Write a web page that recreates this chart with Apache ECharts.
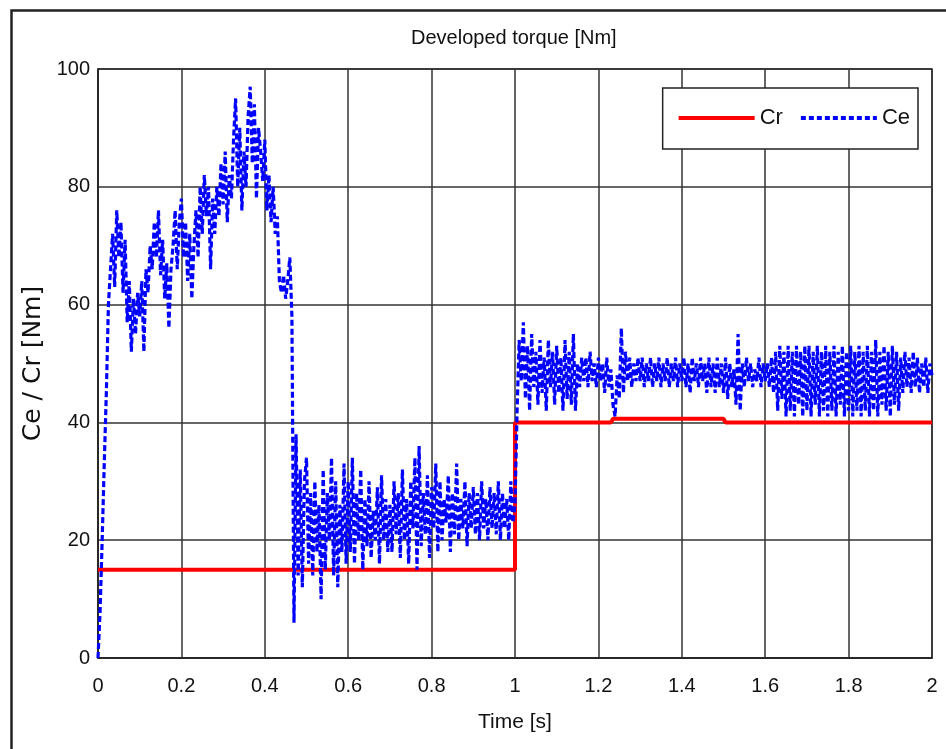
<!DOCTYPE html>
<html>
<head>
<meta charset="utf-8">
<script src="https://cdn.jsdelivr.net/npm/echarts@6/dist/echarts.min.js"></script>
<style>html,body{margin:0;padding:0;background:#fff;}#c{width:946px;height:749px;}</style>
</head>
<body>
<div id="c"></div>
<script>
// Time axis tick labels
const xTicks = ['0','0.2','0.4','0.6','0.8','1','1.2','1.4','1.6','1.8','2'];
const yTicks = ['0','20','40','60','80','100'];

// Cr (load torque): step profile [time, value]
const crTimes  = [0, 1.0, 1.0, 1.23, 1.235, 1.5, 1.505, 2.0];
const crValues = [15, 15, 40, 40, 40.6, 40.6, 40, 40];

// Ce (developed torque) sampled every 0.005 s from t = 0
const ceStart = 0;
const ceStep = 0.005;
const ce_0_0 = [0,8,20,33,45,60,66,72,63,76,68,74,62,71,57,64,52,61,55,62];
const ce_0_1 = [58,64,52,66,62,70,66,74,68,76,65,71,61,67,56,66,70,76,66,74];
const ce_0_2 = [78,68,74,64,72,61,70,76,68,80,72,82,75,80,66,78,72,80,75,84];
const ce_0_3 = [77,86,74,82,78,88,95,80,90,76,86,80,92,97,84,94,78,90,86,81];
const ce_0_4 = [88,76,82,74,80,72,75,64,62,65,61,64,68,58,6,38,14,32,12,30];
const ce_0_5 = [34,16,28,14,30,18,26,10,32,15,28,20,34,14,30,12,26,18,33,16];
const ce_0_6 = [30,18,34,16,28,20,32,15,27,19,30,17,25,20,29,16,31,20,27,18];
const ce_0_7 = [26,18,30,21,28,17,32,20,27,16,30,22,34,15,36,19,28,21,31,17];
const ce_0_8 = [29,22,33,18,30,20,27,23,31,18,28,21,33,20,27,22,30,19,28,22];
const ce_0_9 = [29,21,28,20,30,22,27,20,29,22,28,21,30,20,28,22,27,20,30,23];
const ce_1_0 = [26,42,54,47,57,44,53,42,55,46,52,43,54,45,51,42,54,46,52,43];
const ce_1_1 = [53,45,51,42,54,44,52,43,55,42,50,46,51,47,51,46,52,47,50,46];
const ce_1_2 = [51,47,50,45,51,46,49,43,41,48,44,56,45,52,47,51,46,50,47,51];
const ce_1_3 = [47,51,46,50,47,51,46,50,47,51,46,50,47,51,46,50,47,51,46,50];
const ce_1_4 = [47,51,46,50,45,51,47,50,46,51,47,50,45,51,46,50,45,51,46,50];
const ce_1_5 = [45,51,44,50,46,49,43,55,42,50,46,51,47,50,46,49,47,51,46,50];
const ce_1_6 = [47,50,46,51,45,52,42,53,44,52,41,53,42,52,41,53,43,52,41,53];
const ce_1_7 = [42,53,41,52,43,53,41,52,42,53,41,52,42,53,41,52,43,53,41,52];
const ce_1_8 = [42,53,41,52,42,53,41,52,42,53,41,52,42,54,41,52,43,53,42,52];
const ce_1_9 = [41,53,43,52,42,51,45,52,46,51,45,52,46,51,45,50,46,51,45,50,48];

const ceValues = [].concat(ce_0_0,ce_0_1,ce_0_2,ce_0_3,ce_0_4,ce_0_5,ce_0_6,ce_0_7,ce_0_8,ce_0_9,
  ce_1_0,ce_1_1,ce_1_2,ce_1_3,ce_1_4,ce_1_5,ce_1_6,ce_1_7,ce_1_8,ce_1_9);

const crData = crTimes.map((t, i) => [t, crValues[i]]);
const ceData = ceValues.map((v, i) => [+(ceStart + i * ceStep).toFixed(4), v]);

const FONT = "'Liberation Sans', Arial, sans-serif";
const hiddenSymbol = {color: 'rgba(0,0,0,0)', borderWidth: 0, opacity: 0};
const chart = echarts.init(document.getElementById('c'), null, {renderer: 'canvas'});
chart.setOption({
  animation: false,
  backgroundColor: '#ffffff',
  title: {
    text: 'Developed torque [Nm]',
    left: 406, top: 23,
    textStyle: {fontFamily: FONT, fontSize: 20, fontWeight: 'normal', color: '#111'}
  },
  graphic: [{
    type: 'rect', left: 9, top: 8, z: 100, silent: true,
    shape: {width: 1000, height: 1000},
    style: {fill: 'none', stroke: '#222', lineWidth: 2.5}
  }],
  legend: {
    right: 28, top: 88,
    orient: 'horizontal',
    backgroundColor: '#fff',
    borderColor: '#222', borderWidth: 1.5, borderRadius: 0,
    padding: [19, 8, 20, 14],
    itemWidth: 76, itemHeight: 22, itemGap: 16,
    textStyle: {fontFamily: FONT, fontSize: 22, color: '#111'},
    data: [
      {name: 'Cr', itemStyle: hiddenSymbol, lineStyle: {color: '#ff0000', width: 4, type: 'solid'}},
      {name: 'Ce', itemStyle: hiddenSymbol, lineStyle: {color: '#0000ff', width: 4, type: [5, 3]}}
    ]
  },
  grid: {left: 98, right: 14, top: 69, bottom: 91, show: true, borderColor: '#222', borderWidth: 1.5, backgroundColor: 'transparent'},
  xAxis: {
    type: 'value', min: 0, max: 2, interval: 0.2,
    name: 'Time [s]', nameLocation: 'middle', nameGap: 54,
    nameTextStyle: {fontFamily: FONT, fontSize: 21, color: '#111'},
    axisLine: {show: true, lineStyle: {color: '#222', width: 1.5}},
    axisTick: {show: false},
    axisLabel: {fontFamily: FONT, fontSize: 20, color: '#111', margin: 18,
      formatter: (v) => xTicks[Math.round(v / 0.2)]},
    splitLine: {show: true, lineStyle: {color: '#333', width: 1.5}}
  },
  yAxis: {
    type: 'value', min: 0, max: 100, interval: 20,
    name: 'Ce / Cr [Nm]', nameLocation: 'middle', nameGap: 52,
    nameTextStyle: {fontFamily: "'DejaVu Sans', sans-serif", fontSize: 25, color: '#111'},
    axisLine: {show: true, lineStyle: {color: '#222', width: 1.5}},
    axisTick: {show: false},
    axisLabel: {fontFamily: FONT, fontSize: 20, color: '#111', margin: 8,
      formatter: (v) => yTicks[Math.round(v / 20)]},
    splitLine: {show: true, lineStyle: {color: '#333', width: 1.5}}
  },
  series: [
    {name: 'Cr', type: 'line', data: crData, symbol: 'none', showSymbol: false, z: 3,
      lineStyle: {color: '#ff0000', width: 4}, itemStyle: {color: '#ff0000'}},
    {name: 'Ce', type: 'line', data: ceData, symbol: 'none', showSymbol: false, z: 4,
      lineStyle: {color: '#0000ff', width: 3.2, type: [6, 3]}, itemStyle: {color: '#0000ff'}}
  ]
});
</script>
</body>
</html>
